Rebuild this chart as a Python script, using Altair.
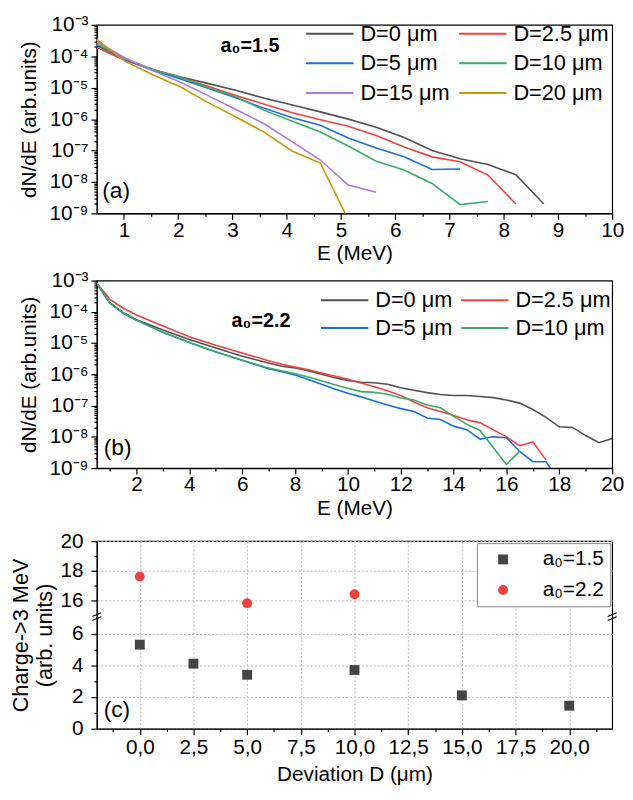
import altair as alt
import pandas as pd

FONT = "Liberation Sans"

# ---------------- panel (a): a0 = 1.5 ----------------
E_a = [0.5, 1.015, 1.53, 2.045, 2.56, 3.075, 3.59, 4.105, 4.62, 5.135,
       5.65, 6.165, 6.68, 7.195, 7.71, 8.225, 8.74]
a_D0 = [2.2e-4, 8e-5, 3.8e-5, 2.2e-5, 1.35e-5, 8.2e-6, 4.6e-6, 2.8e-6, 1.7e-6,
        1.0e-6, 5.5e-7, 2.6e-7, 1.0e-7, 5.5e-8, 3.6e-8, 1.7e-8, 2e-9]
a_D2_5 = [1.9e-4, 7.5e-5, 3.7e-5, 2.1e-5, 1.1e-5, 5.5e-6, 3.0e-6, 1.6e-6, 9.5e-7,
          5.9e-7, 3.0e-7, 1.3e-7, 6.3e-8, 4.4e-8, 1.66e-8, 2e-9]
a_D5 = [2.4e-4, 8e-5, 3.6e-5, 1.9e-5, 9.5e-6, 4.7e-6, 2.2e-6, 1.1e-6, 6.4e-7,
        2.5e-7, 1.2e-7, 6.3e-8, 2.5e-8, 2.6e-8]
a_D10 = [2.5e-4, 8.5e-5, 3.8e-5, 2.1e-5, 1.0e-5, 5.0e-6, 1.9e-6, 8.5e-7, 3.9e-7,
         1.4e-7, 4.6e-8, 2.4e-8, 9e-9, 1.9e-9, 2.4e-9]
a_D15 = [2.9e-4, 9e-5, 3.5e-5, 1.5e-5, 5.5e-6, 2.0e-6, 7e-7, 1.9e-7, 5e-8, 8e-9, 4.7e-9]
a_D20 = [3.4e-4, 7e-5, 2.6e-5, 1.05e-5, 3.3e-6, 1.15e-6, 3.8e-7, 9.5e-8, 4e-8, 6.4e-10]
series_a = ["D=0 μm", "D=2.5 μm", "D=5 μm", "D=10 μm", "D=15 μm", "D=20 μm"]
values_a = [a_D0, a_D2_5, a_D5, a_D10, a_D15, a_D20]

# ---------------- panel (b): a0 = 2.2 ----------------
E_b = [0.5, 1.0, 1.5, 2.0, 3.0, 4.0, 5.0, 6.0, 7.0, 7.5, 8.0, 8.5, 9.0, 9.5, 10.0,
       10.5, 11.0, 11.5, 12.0, 12.5, 13.0, 13.5, 14.0, 14.5, 15.0, 15.5, 16.0, 16.5,
       17.0, 17.5, 18.0, 18.5, 19.0, 19.5, 20.0]
E_b_green = [0.5, 1.0, 1.5, 2.0, 3.0, 4.0, 5.0, 6.0, 7.0, 7.5, 8.0, 8.5, 9.0, 9.5, 10.0,
             10.5, 11.0, 11.5, 12.0, 12.5, 13.0, 13.5, 14.0, 14.5, 15.0, 16.0, 16.5]
b_D0 = [8e-4, 1.9e-4, 9.5e-5, 5.6e-5, 2.6e-5, 1.3e-5, 7e-6, 3.8e-6, 2.3e-6, 1.8e-6,
        1.6e-6, 1.3e-6, 1.0e-6, 7.8e-7, 6.4e-7, 5.6e-7, 5.4e-7, 4.8e-7, 3.7e-7, 3.1e-7,
        2.6e-7, 2.25e-7, 2.1e-7, 2.1e-7, 1.95e-7, 1.8e-7, 1.5e-7, 1.2e-7, 7.5e-8, 4.2e-8,
        2.1e-8, 2e-8, 1.1e-8, 6.5e-9, 8.9e-9]
b_D2_5 = [8.2e-4, 2.5e-4, 1.3e-4, 7.9e-5, 3.5e-5, 1.6e-5, 8.5e-6, 4.8e-6, 2.7e-6, 2.1e-6,
          1.7e-6, 1.4e-6, 1.1e-6, 8.8e-7, 7e-7, 5.3e-7, 4e-7, 3e-7, 2.1e-7, 1.3e-7,
          8.5e-8, 6.5e-8, 4.8e-8, 3.5e-8, 2.8e-8, 1.7e-8, 1e-8, 5.2e-9, 6.9e-9, 1.8e-9]
b_D5 = [8e-4, 1.9e-4, 9e-5, 5.3e-5, 2.2e-5, 1.05e-5, 5.3e-6, 2.8e-6, 1.5e-6, 1.2e-6,
        9.5e-7, 6.8e-7, 4.8e-7, 3.4e-7, 2.5e-7, 1.9e-7, 1.4e-7, 1.05e-7, 8e-8, 6.5e-8,
        4e-8, 3.6e-8, 2.2e-8, 1.7e-8, 8.5e-9, 1e-8, 9.3e-9, 3.4e-9, 1.6e-9, 1.6e-9, 3.6e-10]
b_D10 = [8e-4, 1.9e-4, 9.3e-5, 5.4e-5, 2.2e-5, 1.05e-5, 5.2e-6, 2.8e-6, 1.6e-6, 1.3e-6,
         1.05e-6, 8.2e-7, 6.2e-7, 4.6e-7, 3.6e-7, 2.8e-7, 2.65e-7, 2.3e-7, 1.75e-7, 1.5e-7,
         1.05e-7, 8.5e-8, 4.5e-8, 2.5e-8, 1.6e-8, 1.3e-9, 3.5e-9]
series_b = ["D=0 μm", "D=2.5 μm", "D=5 μm", "D=10 μm"]
values_b = [b_D0, b_D2_5, b_D5, b_D10]
E_lists_b = [E_b, E_b, E_b, E_b_green]

# ---------------- panel (c): charge > 3 MeV ----------------
D_15 = [0, 2.5, 5, 10, 15, 20]
Q_15 = [5.3, 4.1, 3.4, 3.7, 2.1, 1.45]
D_22 = [0, 5, 10]
Q_22 = [17.6, 15.8, 16.4]
series_c = ["a₀=1.5", "a₀=2.2"]

COLORS = ["#515151", "#F14040", "#1A6FDF", "#37AD6B", "#B177DE", "#CC9900"]

# annotations
ann_a = pd.DataFrame({"E": [0.6], "N": [3.2e-9], "text": ["(a)"]})
ann_a2 = pd.DataFrame({"E": [2.78], "N": [1.32e-4], "text": ["a₀=1.5"]})
ann_b = pd.DataFrame({"E": [0.76], "N": [2.6e-9], "text": ["(b)"]})
ann_b2 = pd.DataFrame({"E": [5.6], "N": [3.2e-5], "text": ["a₀=2.2"]})
ann_c = pd.DataFrame({"D": [-1.68], "yt": [0.73], "text": ["(c)"]})

# axis-break marks (decoration)
brk = pd.DataFrame({
    "D": [-2.21, -2.21, 21.79, 21.79],
    "D2": [-1.79, -1.79, 22.21, 22.21],
    "yt": [6.82, 7.07, 6.82, 7.07],
    "yt2": [7.06, 7.31, 7.06, 7.31],
})


def long_table(names, e_lists, v_lists):
    rows = []
    for name, es, vs in zip(names, e_lists, v_lists):
        for e, v in zip(es, vs):
            rows.append({"E": e, "N": v, "series": name})
    return pd.DataFrame(rows)


df_a = long_table(series_a, [E_a] * 6, values_a)
df_b = long_table(series_b, E_lists_b, values_b)
rows_c = [{"D": d, "Q": q, "series": series_c[0]} for d, q in zip(D_15, Q_15)]
rows_c += [{"D": d, "Q": q, "series": series_c[1]} for d, q in zip(D_22, Q_22)]
df_c = pd.DataFrame(rows_c)

# ---------- log axis helpers ----------
SUP = "['⁰','¹','²','³','⁴','⁵','⁶','⁷','⁸','⁹']"
IS_DEC = "abs(log(datum.value)/LN10 - round(log(datum.value)/LN10)) < 1e-6"
LOG_LABEL = f"{IS_DEC} ? '10⁻' + {SUP}[-round(log(datum.value)/LN10)] : ''"
log_vals = [m * 10.0 ** k for k in range(-9, -3) for m in range(1, 10)] + [1e-3]


def log_y_axis():
    return alt.Axis(values=log_vals, labelExpr=LOG_LABEL,
                    tickSize={"condition": {"test": IS_DEC, "value": 6}, "value": 3},
                    title="dN/dE (arb.units)", titlePadding=10, labelPadding=3,
                    labelOverlap=False, grid=False, titleFontSize=21)


def line_legend(lx, ly, colpad, rowpad):
    return alt.Legend(title=None, orient="none", legendX=lx, legendY=ly, columns=2,
                      direction="horizontal", clipHeight=24,
                      symbolType="stroke", symbolSize=2304, symbolStrokeWidth=2,
                      symbolOffset=0, labelOffset=6, labelFontSize=22,
                      columnPadding=colpad, rowPadding=rowpad, padding=0)


# ---------- panel (a) ----------
xa = alt.X("E:Q", scale=alt.Scale(domain=[0.5, 10], nice=False, zero=False),
           axis=alt.Axis(values=[1 + 0.5 * i for i in range(19)],
                         labelExpr="datum.value % 1 === 0 ? format(datum.value, 'd') : ''",
                         tickSize={"condition": {"test": "datum.value % 1 === 0", "value": 6}, "value": 3},
                         labelFlush=False, labelOverlap=False, labelPadding=0,
                         title="E (MeV)", titlePadding=3, grid=False))
ya = alt.Y("N:Q", scale=alt.Scale(type="log", domain=[1e-9, 1e-3], nice=False), axis=log_y_axis())

lines_a = alt.Chart(df_a).mark_line(strokeWidth=1.6, clip=True).encode(
    x=xa, y=ya,
    color=alt.Color("series:N", scale=alt.Scale(domain=series_a, range=COLORS),
                    legend=line_legend(211, -3, 8, 6)))
txt_a = alt.Chart(ann_a).mark_text(align="left", baseline="alphabetic", fontSize=23).encode(
    x=xa, y=ya, text="text:N")
txt_a2 = alt.Chart(ann_a2).mark_text(align="left", baseline="alphabetic", fontSize=20,
                                     fontWeight="bold").encode(x=xa, y=ya, text="text:N")
chart_a = alt.layer(lines_a, txt_a, txt_a2).properties(width=522, height=191)

# ---------- panel (b) ----------
xb = alt.X("E:Q", scale=alt.Scale(domain=[0.5, 20], nice=False, zero=False),
           axis=alt.Axis(values=list(range(1, 21)),
                         labelExpr="datum.value % 2 === 0 ? format(datum.value, 'd') : ''",
                         tickSize={"condition": {"test": "datum.value % 2 === 0", "value": 6}, "value": 3},
                         labelFlush=False, labelOverlap=False, labelPadding=0,
                         title="E (MeV)", titlePadding=3, grid=False))
yb = alt.Y("N:Q", scale=alt.Scale(type="log", domain=[1e-9, 1e-3], nice=False), axis=log_y_axis())

lines_b = alt.Chart(df_b).mark_line(strokeWidth=1.6, clip=True).encode(
    x=xb, y=yb,
    color=alt.Color("series:N", scale=alt.Scale(domain=series_b, range=COLORS[:4]),
                    legend=line_legend(226, 8, 7, 4)))
txt_b = alt.Chart(ann_b).mark_text(align="left", baseline="alphabetic", fontSize=23).encode(
    x=xb, y=yb, text="text:N")
txt_b2 = alt.Chart(ann_b2).mark_text(align="left", baseline="alphabetic", fontSize=20,
                                     fontWeight="bold").encode(x=xb, y=yb, text="text:N")
chart_b = alt.layer(lines_b, txt_b, txt_b2).properties(width=522, height=190)

# ---------- panel (c) ----------
lower_t = [0, 1, 2, 3, 4, 5, 6]
upper_t = [16, 17, 18, 19, 20]
yt_vals = lower_t + [round(8.1 + (v - 16) * 0.93, 4) for v in upper_t]
ORIG = "(datum.value < 7.5 ? datum.value : round(16 + (datum.value - 8.1) / 0.93))"
MAJ_Y = f"{ORIG} % 2 === 0"
yc = alt.Y("yt:Q", scale=alt.Scale(domain=[0, 11.82], nice=False, zero=False),
           axis=alt.Axis(values=yt_vals,
                         labelExpr=f"{MAJ_Y} ? format({ORIG}, 'd') : ''",
                         tickSize={"condition": {"test": MAJ_Y, "value": 6}, "value": 3},
                         gridOpacity={"condition": {"test": MAJ_Y, "value": 1}, "value": 0},
                         grid=True, gridColor="#b8b8b8", gridDash=[2, 2], gridWidth=1,
                         labelOverlap=False, labelPadding=8,
                         title=["Charge->3 MeV", "(arb. units)"], titleFontSize=22,
                         titlePadding=4, titleLineHeight=24))
MAJ_X = "(datum.value / 2.5) % 1 === 0"
xc = alt.X("D:Q", scale=alt.Scale(domain=[-2, 22], nice=False, zero=False),
           axis=alt.Axis(values=[-1.25 + 1.25 * i for i in range(19)],
                         labelExpr=f"{MAJ_X} ? replace(format(datum.value, '.1f'), '.', ',') : ''",
                         tickSize={"condition": {"test": MAJ_X, "value": 6}, "value": 3},
                         gridOpacity={"condition": {"test": MAJ_X, "value": 1}, "value": 0},
                         grid=True, gridColor="#b8b8b8", gridDash=[2, 2], gridWidth=1,
                         labelFlush=False, labelOverlap=False, labelPadding=2,
                         title="Deviation D (μm)", titlePadding=6))

leg_c = alt.Legend(title=None, orient="none", legendX=385, legendY=2, padding=6,
                   strokeColor="#8a8a8a", fillColor="white", symbolSize=100,
                   symbolOffset=10, labelOffset=29.6, rowPadding=9, labelFontSize=21)
pts = alt.Chart(df_c).transform_calculate(
    yt="datum.Q < 10 ? datum.Q : 8.1 + (datum.Q - 16) * 0.93"
).mark_point(filled=True, size=100, opacity=1).encode(
    x=xc, y=yc,
    color=alt.Color("series:N", scale=alt.Scale(domain=series_c, range=["#444444", "#F14040"]),
                    legend=leg_c),
    shape=alt.Shape("series:N", scale=alt.Scale(domain=series_c, range=["square", "circle"]),
                    legend=leg_c))
breaks = alt.Chart(brk).mark_rule(color="black", strokeWidth=1.2).encode(
    x=xc, x2="D2:Q", y=yc, y2="yt2:Q")
txt_c = alt.Chart(ann_c).mark_text(align="left", baseline="alphabetic", fontSize=23).encode(
    x=xc, y=yc, text="text:N")
chart_c = alt.layer(pts, breaks, txt_c).properties(width=522, height=190)

top_two = alt.vconcat(chart_a, chart_b, spacing=4).resolve_scale(color="independent")
chart = alt.vconcat(top_two, chart_c, spacing=10).resolve_scale(
    color="independent", shape="independent"
).properties(
    padding={"left": 1, "top": 0, "right": 0, "bottom": 0}
).configure_view(
    stroke="black", strokeWidth=1.2
).configure_axis(
    labelFont=FONT, titleFont=FONT, labelFontSize=21, titleFontSize=21,
    titleFontWeight="normal", labelColor="black", titleColor="black",
    domainColor="black", tickColor="black", domainWidth=1.2, tickWidth=1.2
).configure_legend(
    labelFont=FONT, labelColor="black"
).configure_text(font=FONT, color="black")

chart.save("out.html", embed_options={"renderer": "svg", "actions": False})
